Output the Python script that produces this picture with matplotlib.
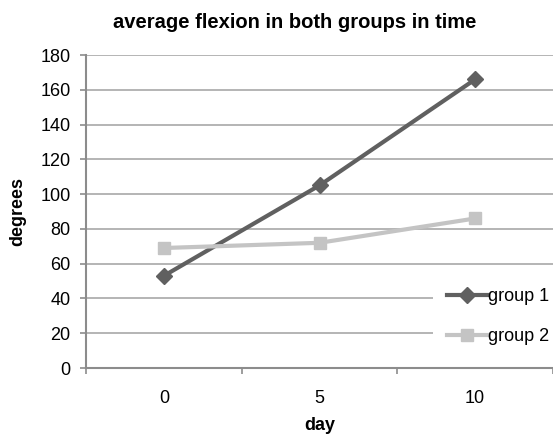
import matplotlib
matplotlib.use("Agg")
import matplotlib.pyplot as plt

plt.rcParams['font.family'] = ['Liberation Sans', 'DejaVu Sans']

# datos
dias = ['0', '5', '10']
grupo1 = [53, 105, 166]
grupo2 = [69, 72, 86]
yticks = [0, 20, 40, 60, 80, 100, 120, 140, 160, 180]

fs = 13

fig = plt.figure(figsize=(5.53, 4.36), dpi=100)
ax = fig.add_axes([86/553, 1-368/436, 1-86/553, (368-55)/436])

x = range(len(dias))
ax.plot(x, grupo1, color='#606060', lw=3, marker='D', ms=8, label='group 1', zorder=3)
ax.plot(x, grupo2, color='#c4c4c4', lw=3, marker='s', ms=9, label='group 2', zorder=3)

ax.set_xlim(-0.5, len(dias) - 0.5)
ax.set_ylim(0, 180)
ax.set_yticks(yticks)
ax.set_yticklabels([str(v) for v in yticks], fontsize=fs)
ax.set_xticks([i - 0.5 for i in range(len(dias) + 1)])
ax.set_xticklabels([])
ax.set_xticks(list(x), minor=True)
ax.set_xticklabels(dias, minor=True, fontsize=fs)
ax.tick_params(axis='x', which='minor', length=0, pad=16)
ax.tick_params(axis='x', which='major', length=4, color='#8c8c8c', direction='out', width=1.2)
ax.tick_params(axis='y', length=4, color='#8c8c8c', direction='out', pad=7, width=1.2)

ax.grid(axis='y', color='#a8a8a8', lw=1.2)
ax.set_axisbelow(True)
for s in ['top', 'right']:
    ax.spines[s].set_visible(False)
for s in ['left', 'bottom']:
    ax.spines[s].set_color('#8c8c8c')
    ax.spines[s].set_linewidth(1.5)

fig.text(295/553, 1-22/436, 'average flexion in both groups in time', fontsize=14.5,
         fontweight='bold', ha='center', va='center')
ax.set_xlabel('day', fontsize=fs, fontweight='bold', labelpad=7)
ax.set_ylabel('degrees', fontsize=fs, fontweight='bold', labelpad=10)

leg = ax.legend(loc='upper left', bbox_to_anchor=(433/553, 1-274/436), bbox_transform=fig.transFigure,
                frameon=True, fontsize=fs, handlelength=2.2, handletextpad=0.05,
                labelspacing=1.25, borderaxespad=0, borderpad=0.8)
leg.get_frame().set_facecolor('white')
leg.get_frame().set_edgecolor('none')
leg.get_frame().set_alpha(1)
leg.get_frame().set_boxstyle('square', pad=0)

fig.savefig('out.png', dpi=100)
